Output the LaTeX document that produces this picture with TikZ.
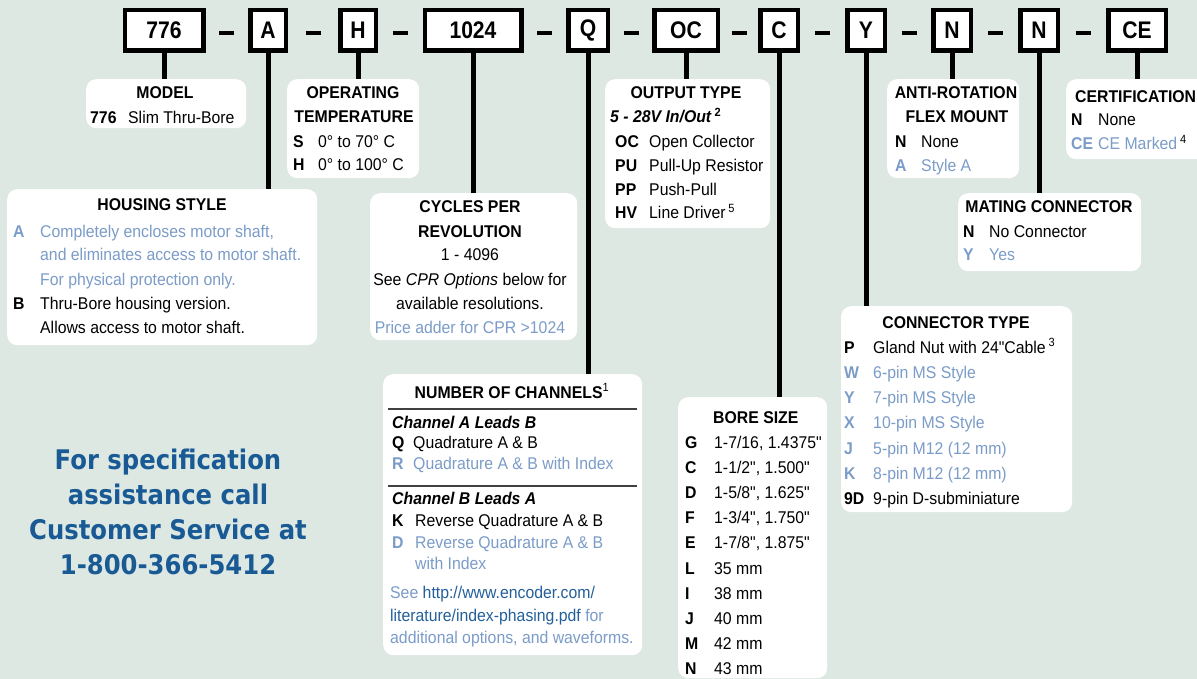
\documentclass[tikz,border=0pt]{standalone}
\usepackage{fontspec}
\newfontfamily\bodyfont{Liberation Sans}[FakeStretch=0.93]
\newfontfamily\codefont{Liberation Sans}[FakeStretch=0.88]
\newfontfamily\callfont{DejaVu Sans}[FakeStretch=0.9]
\usepackage{xcolor}
\usepackage{tikz}
\usetikzlibrary{calc}

\definecolor{bgcol}{HTML}{DDE8E3}
\definecolor{optblue}{HTML}{7B9CC8}
\definecolor{linkblue}{HTML}{23609A}
\definecolor{callblue}{HTML}{195A95}

% one option row: [colour]{name}{key x}{text x}{baseline}{key}{text}
\newcommand{\opt}[7][black]{%
  \node[optkey, text=#1] (#2k) at (#3,#5) {#6};
  \node[opttxt, text=#1] (#2) at (#4,#5) {#7};}

\begin{document}
\bodyfont\fontsize{17}{20}\selectfont
\begin{tikzpicture}[x=1pt, y=-1pt,
    codebox/.style={draw, line width=4.5, fill=white, minimum height=40.5, inner sep=0,
                    font=\codefont\bfseries\fontsize{24}{26}\selectfont},
    panel/.style={fill=white, rounded corners=10, anchor=north west, inner sep=0},
    lead/.style={line width=5},
    sep/.style={line width=4.5},
    head/.style={anchor=base, inner sep=0, font=\bfseries},
    optkey/.style={anchor=base west, inner sep=0, font=\bfseries},
    opttxt/.style={anchor=base west, inner sep=0}]
    \useasboundingbox (0,0) rectangle (1197,679);
    \fill[bgcol] (0,0) rectangle (1197,679);

    % part number boxes
    \node[codebox, minimum width=78.5] (b776)  at (164,30.5)  {776};
    \node[codebox, minimum width=35.5] (bA)    at (268,30.5)  {A};
    \node[codebox, minimum width=35.5] (bH)    at (358,30.5)  {H};
    \node[codebox, minimum width=96.5] (b1024) at (473,30.5)  {1024};
    \node[codebox, minimum width=39.5] (bQ)    at (588,30.5)  {Q};
    \node[codebox, minimum width=63.5] (bOC)   at (686,30.5)  {OC};
    \node[codebox, minimum width=37.5] (bC)    at (779,30.5)  {C};
    \node[codebox, minimum width=37.5] (bY)    at (866,30.5)  {Y};
    \node[codebox, minimum width=37.5] (bN)    at (952,30.5)  {N};
    \node[codebox, minimum width=37.5] (bNN)   at (1039,30.5) {N};
    \node[codebox, minimum width=57.5] (bCE)   at (1137,30.5) {CE};
    \foreach \a/\b in {b776/bA, bA/bH, bH/b1024, b1024/bQ, bQ/bOC, bOC/bC, bC/bY, bY/bN, bN/bNN, bNN/bCE}
        \draw[sep] ($(\a.east)!.5!(\b.west)$) ++(-7.5,2.5) -- ++(15,0);

    % panels
    \node[panel, minimum width=160, minimum height=49]  (model) at (86,79)   {};
    \node[panel, minimum width=132, minimum height=99]  (temp)  at (287,79)  {};
    \node[panel, minimum width=310, minimum height=156] (house) at (7,189)   {};
    \node[panel, minimum width=207, minimum height=147] (cpr)   at (370,193) {};
    \node[panel, minimum width=259, minimum height=281] (chan)  at (383,374) {};
    \node[panel, minimum width=165, minimum height=149] (out)   at (605,79)  {};
    \node[panel, minimum width=149, minimum height=281] (bore)  at (678,397) {};
    \node[panel, minimum width=231, minimum height=206] (conn)  at (841,306) {};
    \node[panel, minimum width=132, minimum height=99]  (anti)  at (887,79)  {};
    \node[panel, minimum width=145, minimum height=80]  (cert)  at (1066,79) {};
    \node[panel, minimum width=183, minimum height=78]  (mate)  at (958,193) {};

    % leads
    \draw[lead] (b776.south)  -- (b776.south |- model.north);
    \draw[lead] (bA.south)    -- (bA.south |- house.north);
    \draw[lead] (bH.south)    -- (bH.south |- temp.north);
    \draw[lead] (b1024.south) -- (b1024.south |- cpr.north);
    \draw[lead] (bQ.south)    -- (bQ.south |- chan.north);
    \draw[lead] (bOC.south)   -- (bOC.south |- out.north);
    \draw[lead] (bC.south)    -- (bC.south |- bore.north);
    \draw[lead] (bY.south)    -- (bY.south |- conn.north);
    \draw[lead] (bN.south)    -- (bN.south |- anti.north);
    \draw[lead] (bNN.south)   -- (bNN.south |- mate.north);
    \draw[lead] (bCE.south)   -- (bCE.south |- cert.north);

    % model
    \node[head] (modelT) at (165,99) {MODEL};
    \opt{mod1}{90}{128}{124}{776}{Slim Thru-Bore}

    % operating temperature
    \node[head] (tempT1) at (353,99)  {OPERATING};
    \node[head] (tempT2) at (354,123) {TEMPERATURE};
    \opt{tmpS}{293}{318}{148}{S}{0° to 70° C}
    \opt{tmpH}{293}{318}{171}{H}{0° to 100° C}

    % housing style
    \node[head] (houseT) at (162,211) {HOUSING STYLE};
    \opt[optblue]{hsA}{13}{40}{237}{A}{Completely encloses motor shaft,}
    \node[opttxt, text=optblue] (hsA2) at (40,261) {and eliminates access to motor shaft.};
    \node[opttxt, text=optblue] (hsA3) at (40,285) {For physical protection only.};
    \opt{hsB}{13}{40}{309}{B}{Thru-Bore housing version.}
    \node[opttxt] (hsB2) at (40,333) {Allows access to motor shaft.};

    % cycles per revolution
    \node[head] (cprT1) at (470,213) {CYCLES PER};
    \node[head] (cprT2) at (470,237) {REVOLUTION};
    \node[anchor=base, inner sep=0] (cpr1) at (470,261) {1 - 4096};
    \node[anchor=base, inner sep=0] (cpr2) at (470,285) {See \textit{CPR Options} below for};
    \node[anchor=base, inner sep=0] (cpr3) at (470,309) {available resolutions.};
    \node[anchor=base, inner sep=0, text=optblue] (cpr4) at (470,333) {Price adder for CPR >1024};

    % number of channels
    \node[head] (chanT) at (512,398) {NUMBER OF CHANNELS\textsuperscript{\mdseries 1}};
    \draw[line width=1.2, black!75] (388,409) -- (637,409);
    \node[opttxt, font=\bfseries\itshape] (chanA) at (392,428) {Channel A Leads B};
    \opt{chQ}{392}{413}{448}{Q}{Quadrature A \& B}
    \opt[optblue]{chR}{392}{413}{469}{R}{Quadrature A \& B with Index}
    \draw[line width=1.2, black!75] (388,486) -- (637,486);
    \node[opttxt, font=\bfseries\itshape] (chanB) at (392,504) {Channel B Leads A};
    \opt{chK}{392}{415}{526}{K}{Reverse Quadrature A \& B}
    \opt[optblue]{chD}{392}{415}{548}{D}{Reverse Quadrature A \& B}
    \node[opttxt, text=optblue] (chD2) at (415,569) {with Index};
    \node[opttxt, text=optblue] (see1) at (390,598) {See \textcolor{linkblue}{http://www.encoder.com/}};
    \node[opttxt, text=optblue] (see2) at (390,621) {\textcolor{linkblue}{literature/index-phasing.pdf} for};
    \node[opttxt, text=optblue] (see3) at (390,643) {additional options, and waveforms.};

    % output type
    \node[head] (outT) at (686,99) {OUTPUT TYPE};
    \node[opttxt, font=\bfseries] (outV) at (610,123) {\textit{5 - 28V In/Out}\,\textsuperscript{2}};
    \opt{outOC}{615}{649}{148}{OC}{Open Collector}
    \opt{outPU}{615}{649}{172}{PU}{Pull-Up Resistor}
    \opt{outPP}{615}{649}{196}{PP}{Push-Pull}
    \opt{outHV}{615}{649}{219}{HV}{Line Driver\,\textsuperscript{5}}

    % bore size
    \node[optkey] (boreT) at (713,423) {BORE SIZE};
    \opt{boG}{685}{714}{448}{G}{1-7/16, 1.4375"}
    \opt{boC}{685}{714}{473.2}{C}{1-1/2", 1.500"}
    \opt{boD}{685}{714}{498.4}{D}{1-5/8", 1.625"}
    \opt{boF}{685}{714}{523.6}{F}{1-3/4", 1.750"}
    \opt{boE}{685}{714}{548.8}{E}{1-7/8", 1.875"}
    \opt{boL}{685}{714}{574}{L}{35 mm}
    \opt{boI}{685}{714}{599.2}{I}{38 mm}
    \opt{boJ}{685}{714}{624.4}{J}{40 mm}
    \opt{boM}{685}{714}{649.6}{M}{42 mm}
    \opt{boN}{685}{714}{674.8}{N}{43 mm}

    % connector type
    \node[head] (connT) at (956,328) {CONNECTOR TYPE};
    \opt{coP}{844}{873}{353}{P}{Gland Nut with 24"Cable\,\textsuperscript{3}}
    \opt[optblue]{coW}{844}{873}{378.3}{W}{6-pin MS Style}
    \opt[optblue]{coY}{844}{873}{403.6}{Y}{7-pin MS Style}
    \opt[optblue]{coX}{844}{873}{428.9}{X}{10-pin MS Style}
    \opt[optblue]{coJ}{844}{873}{454.2}{J}{5-pin M12 (12 mm)}
    \opt[optblue]{coK}{844}{873}{479.5}{K}{8-pin M12 (12 mm)}
    \opt{co9D}{844}{873}{504.8}{9D}{9-pin D-subminiature}

    % anti-rotation
    \node[head] (antiT1) at (956,99)  {ANTI-ROTATION};
    \node[head] (antiT2) at (957,123) {FLEX MOUNT};
    \opt{antN}{895}{921}{148}{N}{None}
    \opt[optblue]{antA}{895}{921}{172}{A}{Style A}

    % certification
    \node[optkey] (certT) at (1075,103) {CERTIFICATION};
    \opt{certN}{1071}{1098}{126}{N}{None}
    \opt[optblue]{certCE}{1071}{1098}{150}{CE}{CE Marked\,\textcolor{black}{\textsuperscript{4}}}

    % mating connector
    \node[head] (mateT) at (1049,213) {MATING CONNECTOR};
    \opt{matN}{963}{989}{238}{N}{No Connector}
    \opt[optblue]{matY}{963}{989}{261}{Y}{Yes}

    % call text
    \node[align=center, text=callblue, font=\callfont\bfseries\fontsize{27}{35}\selectfont] (call) at (168,512)
        {For specification\\assistance call\\Customer Service at\\1-800-366-5412};
\end{tikzpicture}
\end{document}
